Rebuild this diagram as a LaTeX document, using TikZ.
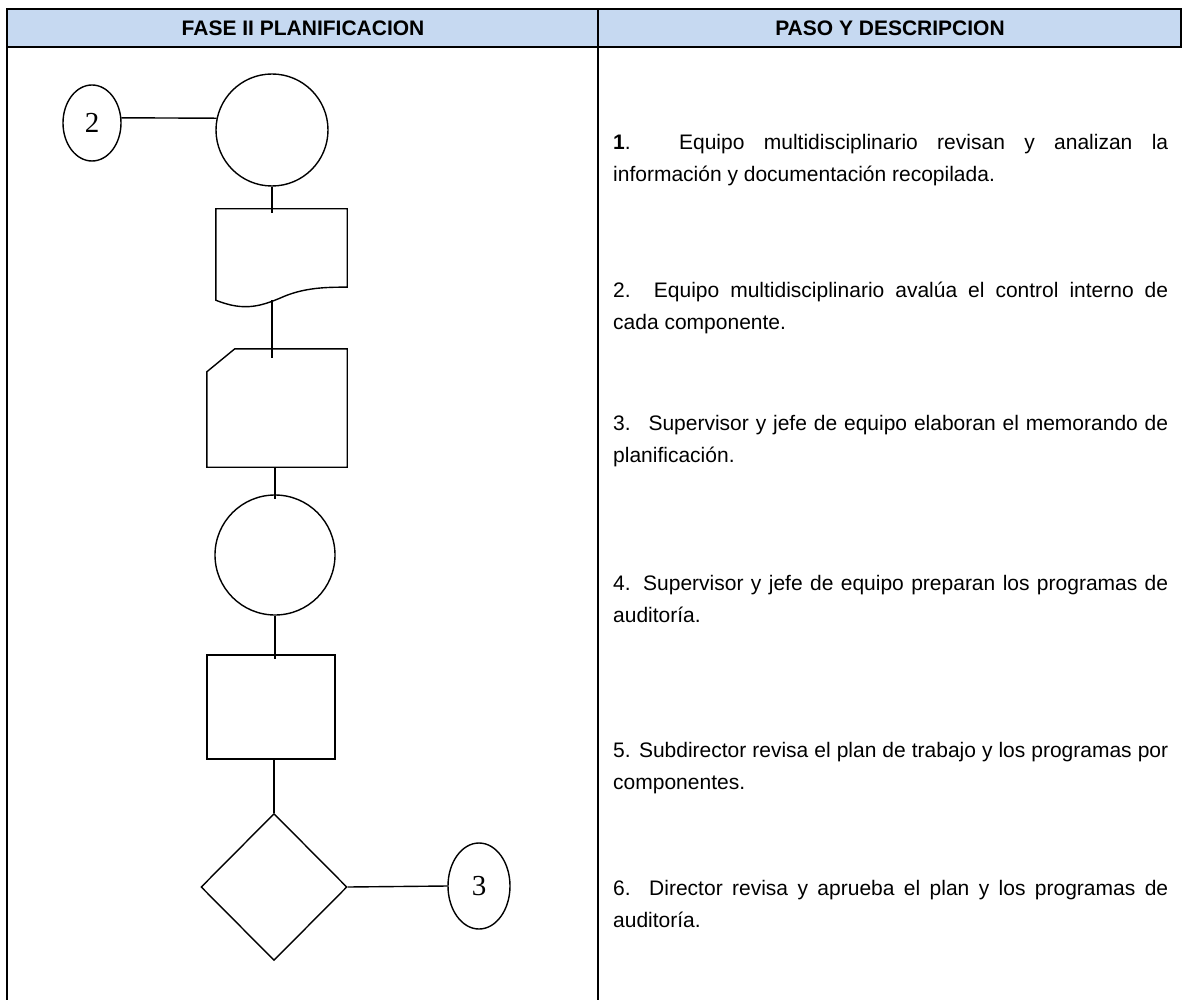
\documentclass[tikz,border=0pt]{standalone}
\usepackage{fontspec}
\setmainfont{Liberation Sans}
\newfontfamily\connfont{Liberation Serif}
\usetikzlibrary{shapes.geometric}
\definecolor{headblue}{HTML}{C6D9F1}
\hyphenpenalty=10000
\exhyphenpenalty=10000
\tolerance=10000
\hbadness=10000

\begin{document}
\begin{tikzpicture}[
  x=1pt, y=-1pt,
  every node/.style={font=\fontsize{21}{32}\selectfont},
  tabline/.style={line width=2pt},
  headtext/.style={font=\bfseries\fontsize{21}{25}\selectfont},
  flow/.style={draw, line width=1.4pt, inner sep=0pt},
  connector/.style={flow, ellipse, font=\connfont\fontsize{29}{29}\selectfont},
  link/.style={line width=1.4pt},
  desc/.style={anchor=north west, inner sep=0pt, text width=555pt, align=justify},
]
\useasboundingbox (0,0) rectangle (1182,1000);

% Table
\fill[headblue] (7,9) rectangle (1181,47);
\draw[tabline] (7,1000) -- (7,9) -- (1181,9) -- (1181,47) -- (7,47);
\draw[tabline] (598,9) -- (598,1000);

\node[headtext] (hfase) at (303,28) {FASE II PLANIFICACION};
\node[headtext] (hpaso) at (890,28) {PASO Y DESCRIPCION};

% Flow shapes
\node[connector, minimum width=58pt, minimum height=76pt] (c2) at (92,123) {2};
\node[flow, circle, minimum size=112pt] (start) at (272,130) {};

\node[minimum width=131pt, minimum height=91pt, inner sep=0pt] (doc) at (281.5,254.5) {};
\draw[link] (doc.south west) -- (doc.north west) -- (doc.north east) -- ([yshift=13pt]doc.south east)
  .. controls (325,287) and (305,288) .. (285,296)
  .. controls (262,306) and (245,312) .. (doc.south west) -- cycle;

\node[minimum width=140pt, minimum height=118pt, inner sep=0pt] (card) at (277,408) {};
\draw[link] ([yshift=-23pt]card.north west) -- ([xshift=28pt]card.north west) -- (card.north east)
  -- (card.south east) -- (card.south west) -- cycle;

\node[flow, circle, minimum size=120pt] (review) at (275,555) {};
\node[flow, rectangle, minimum width=128pt, minimum height=104pt] (plan) at (271,707) {};
\node[flow, diamond, minimum width=146pt, minimum height=147pt] (check) at (274,887) {};
\node[connector, minimum width=62pt, minimum height=86pt] (c3) at (479,886) {3};

% Connectors
\draw[link] (c2.10) -- (start.168);
\draw[link] (start.south) -- ([yshift=-4pt]doc.north -| start.south);
\draw[link] (doc.south -| start.south) -- ([yshift=-9pt]card.north -| start.south);
\draw[link] (review.north |- card.south) -- ([yshift=-5pt]review.north);
\draw[link] (review.south) -- ([yshift=-5pt]plan.north -| review.south);
\draw[link] (check.north |- plan.south) -- (check.north);
\draw[link] (check.east) -- (c3.west);

% Descriptions
\node[desc] (d1) at (613,134) {\textbf{1}. Equipo multidisciplinario revisan y analizan la\linebreak información y documentación recopilada.};
\node[desc] (d2) at (613,282) {2. Equipo multidisciplinario avalúa el control interno de\linebreak cada componente.};
\node[desc] (d3) at (613,415) {3.~ Supervisor y jefe de equipo elaboran el memorando de\linebreak planificación.};
\node[desc] (d4) at (613,575) {4. Supervisor y jefe de equipo preparan los programas de\linebreak auditoría.};
\node[desc] (d5) at (613,742) {5. Subdirector revisa el plan de trabajo y los programas por\linebreak componentes.};
\node[desc] (d6) at (613,880) {6. Director revisa y aprueba el plan y los programas de\linebreak auditoría.};

\end{tikzpicture}
\end{document}
